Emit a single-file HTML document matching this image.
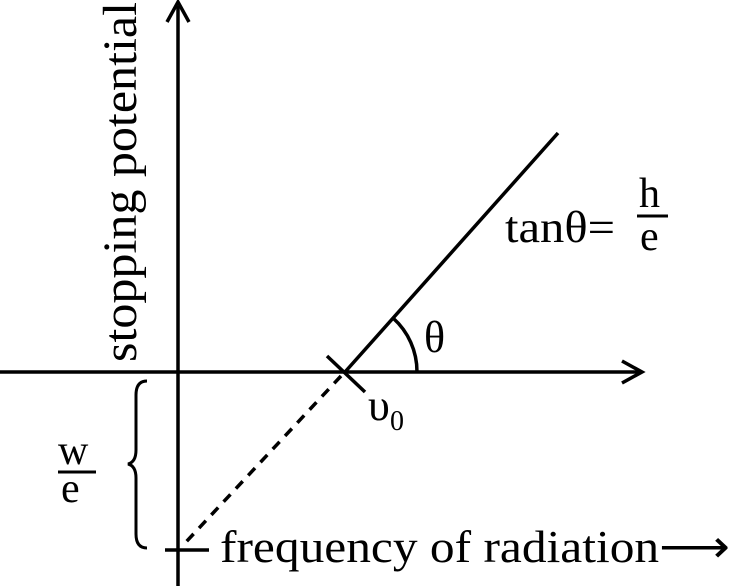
<!DOCTYPE html>
<html><head><style>body{margin:0;background:#fff}svg{display:block}</style></head><body>
<svg width="733" height="586" viewBox="0 0 733 586" xmlns="http://www.w3.org/2000/svg" font-family="Liberation Serif, serif" fill="#000">
<g stroke="#000" stroke-width="3.5" fill="none">
<line x1="178" y1="6" x2="178" y2="586"/>
<polyline points="167,22 178,2 189,22"/>
<line x1="0" y1="372" x2="640" y2="372"/>
<polyline points="622,361 642,372 622,383"/>
<line x1="345" y1="372" x2="558" y2="133"/>
<line x1="327" y1="356" x2="365" y2="392"/>
<line x1="341" y1="376" x2="186" y2="542" stroke-dasharray="10,8"/>
<line x1="165" y1="550" x2="209" y2="550"/>
<path d="M417,372 A72,72 0 0 0 393,318"/>
<path d="M147,381 Q136,381 136,395 L136,450 Q136,462 128,464 Q136,466 136,478 L136,534 Q136,548 147,548" stroke-width="3"/>
<line x1="58" y1="472" x2="96" y2="472" stroke-width="3"/>
<line x1="637" y1="216" x2="668" y2="216" stroke-width="3"/>
</g>
<text x="220" y="562" font-size="46" textLength="510" lengthAdjust="spacingAndGlyphs">frequency of radiation⟶</text>
<text transform="translate(136,362) rotate(-90)" font-size="48" textLength="360" lengthAdjust="spacingAndGlyphs">stopping potential</text>
<text x="505" y="242" font-size="44" textLength="110" lengthAdjust="spacingAndGlyphs">tanθ=</text>
<text x="639" y="207" font-size="42">h</text>
<text x="640" y="250" font-size="42">e</text>
<text x="424" y="352" font-size="44">θ</text>
<text x="368" y="420" font-size="44">υ</text>
<text x="390" y="430" font-size="28">0</text>
<text x="58" y="464" font-size="42">w</text>
<text x="61" y="502" font-size="42">e</text>
</svg>
</body></html>
